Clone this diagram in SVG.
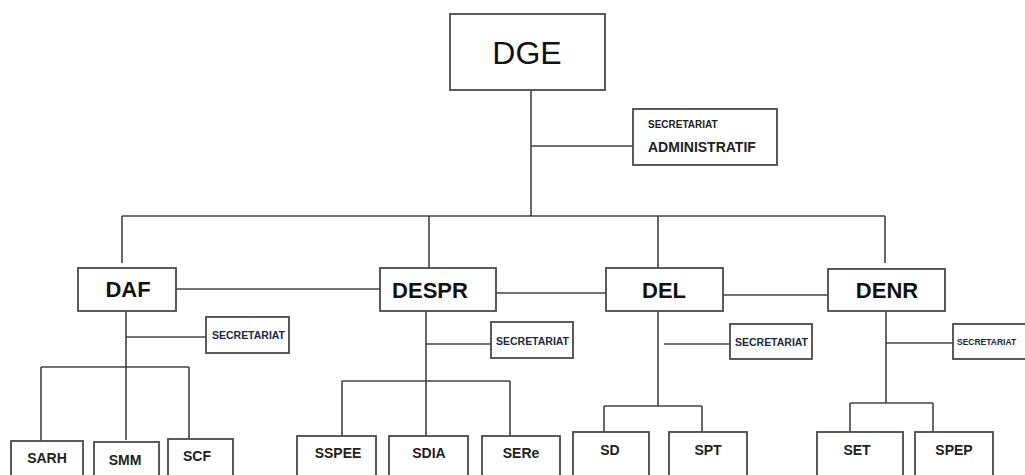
<svg xmlns="http://www.w3.org/2000/svg" width="1025" height="475" viewBox="0 0 1025 475">
<style>
.box{fill:#fff;stroke:#4a4a4a;stroke-width:1.8}
.ln{fill:none;stroke:#444;stroke-width:1.6}
.big{font-family:"Liberation Sans",Arial,sans-serif;font-size:32px;fill:#111;text-anchor:middle}
.dir{font-family:"Liberation Sans",Arial,sans-serif;font-size:22px;font-weight:bold;fill:#111;text-anchor:middle}
.sec{font-family:"Liberation Sans",Arial,sans-serif;font-size:11px;font-weight:bold;fill:#1a2a40}
.sec2{font-family:"Liberation Sans",Arial,sans-serif;font-size:8.5px;font-weight:bold;fill:#1a2a40}
.sub{font-family:"Liberation Sans",Arial,sans-serif;font-size:14px;font-weight:bold;fill:#222;text-anchor:middle}
.adm{font-family:"Liberation Sans",Arial,sans-serif;font-weight:bold;fill:#222}
</style>
<rect width="1025" height="475" fill="#fff"/>
<g id="connectors">
<path class="ln" d="M531 90 V216 M531 146 H633"/>
<path class="ln" d="M122 216 H885 M122 216 V263 M429 216 V268 M658 216 V268 M885 216 V263"/>
<path class="ln" d="M176 289 H380 M496 293 H606 M723 295 H828"/>
<path class="ln" d="M126 311 V440 M126 337 H206 M41 367 H189 M41 367 V441 M189 367 V439"/>
<path class="ln" d="M426 311 V436 M426 344 H491 M342 381 H510 M342 381 V436 M510 381 V436"/>
<path class="ln" d="M658 311 V406 M664 344 H730 M604 406 H702 M604 406 V432 M702 406 V432"/>
<path class="ln" d="M886 311 V403 M886 343 H953 M850 403 H933 M850 403 V432 M933 403 V432"/>
</g>
<g id="dge"><rect class="box" x="450" y="14" width="155" height="76"/><text class="big" x="527" y="64">DGE</text></g>
<g id="sec-admin"><rect class="box" x="633" y="109" width="144" height="56"/>
<text class="adm" x="648" y="128" font-size="10">SECRETARIAT</text>
<text class="adm" x="648" y="152" font-size="14">ADMINISTRATIF</text></g>
<g id="daf"><rect class="box" x="78" y="268" width="98" height="43"/><text class="dir" x="128" y="297">DAF</text></g>
<g id="despr"><rect class="box" x="380" y="268" width="116" height="43"/><text class="dir" x="430" y="298">DESPR</text></g>
<g id="del"><rect class="box" x="606" y="268" width="117" height="43"/><text class="dir" x="664" y="298">DEL</text></g>
<g id="denr"><rect class="box" x="828" y="269" width="117" height="42"/><text class="dir" x="887" y="298">DENR</text></g>
<g id="sec-daf"><rect class="box" x="206" y="317" width="83" height="36"/><text class="sec" x="212" y="339" textLength="73" lengthAdjust="spacingAndGlyphs">SECRETARIAT</text></g>
<g id="sec-despr"><rect class="box" x="491" y="322" width="82" height="36"/><text class="sec" x="496" y="345" textLength="73" lengthAdjust="spacingAndGlyphs">SECRETARIAT</text></g>
<g id="sec-del"><rect class="box" x="730" y="324" width="82" height="35"/><text class="sec" x="735" y="346" textLength="73" lengthAdjust="spacingAndGlyphs">SECRETARIAT</text></g>
<g id="sec-denr"><rect class="box" x="953" y="324" width="85" height="35"/><text class="sec2" x="957" y="345">SECRETARIAT</text></g>
<g id="sarh"><rect class="box" x="11" y="441" width="72" height="40"/><text class="sub" x="47" y="463">SARH</text></g>
<g id="smm"><rect class="box" x="94" y="442" width="65" height="40"/><text class="sub" x="125" y="465">SMM</text></g>
<g id="scf"><rect class="box" x="168" y="439" width="65" height="40"/><text class="sub" x="197" y="461">SCF</text></g>
<g id="sspee"><rect class="box" x="297" y="436" width="79" height="45"/><text class="sub" x="338" y="458">SSPEE</text></g>
<g id="sdia"><rect class="box" x="389" y="436" width="79" height="45"/><text class="sub" x="429" y="458">SDIA</text></g>
<g id="sere"><rect class="box" x="482" y="436" width="78" height="45"/><text class="sub" x="521" y="458">SERe</text></g>
<g id="sd"><rect class="box" x="573" y="432" width="76" height="48"/><text class="sub" x="610" y="455">SD</text></g>
<g id="spt"><rect class="box" x="669" y="432" width="78" height="48"/><text class="sub" x="708" y="455">SPT</text></g>
<g id="set"><rect class="box" x="817" y="432" width="86" height="48"/><text class="sub" x="857" y="455">SET</text></g>
<g id="spep"><rect class="box" x="915" y="432" width="78" height="48"/><text class="sub" x="954" y="455">SPEP</text></g>
</svg>
